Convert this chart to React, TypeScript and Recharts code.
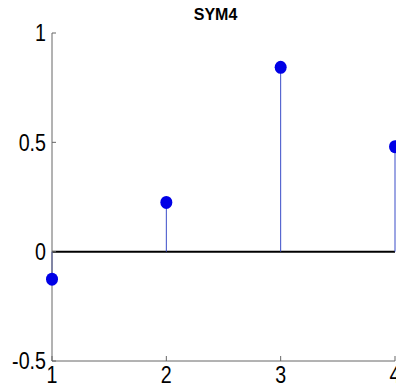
import {
  ComposedChart,
  Scatter,
  XAxis,
  YAxis,
  ReferenceLine,
} from 'recharts'

// wavelet coefficients
const positions = [1, 2, 3, 4]
const coefs = [-0.126, 0.225, 0.843, 0.48]
const xTicks = [1, 2, 3, 4]
const yTicks = [-0.5, 0, 0.5, 1]

const data = positions.map((x, i) => ({ x, y: coefs[i] }))

const AXIS = '#666'
const FONT = '"Liberation Sans", Arial, sans-serif'
// tick labels in the figure are squeezed sideways
const SQUEEZE = 0.82

const BottomTick = (props: any) => {
  const { x, y, payload } = props
  return (
    <g>
      <line x1={x} y1={y} x2={x} y2={y - 5} stroke={AXIS} />
      <text
        transform={`translate(${x},${y + 14}) scale(${SQUEEZE},1)`}
        textAnchor="middle"
        dominantBaseline="central"
        fill="#000"
        fontSize={24}
        fontFamily={FONT}
      >
        {payload.value}
      </text>
    </g>
  )
}

const TopTick = (props: any) => {
  const { x, y } = props
  return <line x1={x} y1={y} x2={x} y2={y + 5} stroke={AXIS} />
}

const LeftTick = (props: any) => {
  const { x, y, payload } = props
  return (
    <g>
      <line x1={x} y1={y} x2={x + 4} y2={y} stroke={AXIS} />
      <text
        transform={`translate(${x - 6},${y}) scale(${SQUEEZE},1)`}
        textAnchor="end"
        dominantBaseline="central"
        fill="#000"
        fontSize={24}
        fontFamily={FONT}
      >
        {String(payload.value)}
      </text>
    </g>
  )
}

const Marker = (props: any) => {
  const { cx, cy } = props
  return <ellipse cx={cx} cy={cy} rx={6} ry={6.5} fill="#0000e6" />
}

export default function App() {
  return (
    <div style={{ position: 'absolute', left: 0, top: 0, width: 396, height: 389, background: '#fff' }}>
      <div
        style={{
          position: 'absolute',
          left: 0,
          top: 7,
          width: 431,
          textAlign: 'center',
          fontFamily: '"Liberation Sans", Arial, sans-serif',
          fontWeight: 'bold',
          fontSize: 16,
          lineHeight: '16px',
        }}
      >
        SYM4
      </div>
      <ComposedChart width={396} height={389} margin={{ top: 33, right: 1, left: 0, bottom: 0 }} data={data}>
        <XAxis
          dataKey="x"
          type="number"
          domain={[1, 4]}
          ticks={xTicks}
          height={28}
          tickSize={0}
          tickMargin={0}
          tickLine={false}
          axisLine={{ stroke: AXIS }}
          tick={<BottomTick />}
          interval={0}
        />
        <XAxis
          xAxisId="top"
          orientation="top"
          type="number"
          domain={[1, 4]}
          ticks={xTicks}
          height={0}
          tickSize={0}
          tickMargin={0}
          tickLine={false}
          axisLine={{ stroke: AXIS }}
          tick={<TopTick />}
          interval={0}
        />
        <YAxis
          type="number"
          domain={[-0.5, 1]}
          ticks={yTicks}
          width={52}
          tickSize={0}
          tickMargin={0}
          tickLine={false}
          axisLine={{ stroke: AXIS }}
          tick={<LeftTick />}
          interval={0}
        />
        <YAxis
          yAxisId="right"
          orientation="right"
          type="number"
          domain={[-0.5, 1]}
          ticks={yTicks}
          width={0}
          tick={false}
          tickLine={false}
          axisLine={{ stroke: AXIS }}
        />
        <ReferenceLine y={0} stroke="#000" strokeWidth={2} />
        {data.map((d) => (
          <ReferenceLine
            key={d.x}
            segment={[
              { x: d.x, y: 0 },
              { x: d.x, y: d.y },
            ]}
            stroke="#3a4cc8"
            strokeWidth={1}
          />
        ))}
        <Scatter dataKey="y" fill="#0000e6" shape={<Marker />} isAnimationActive={false} />
      </ComposedChart>
    </div>
  )
}
